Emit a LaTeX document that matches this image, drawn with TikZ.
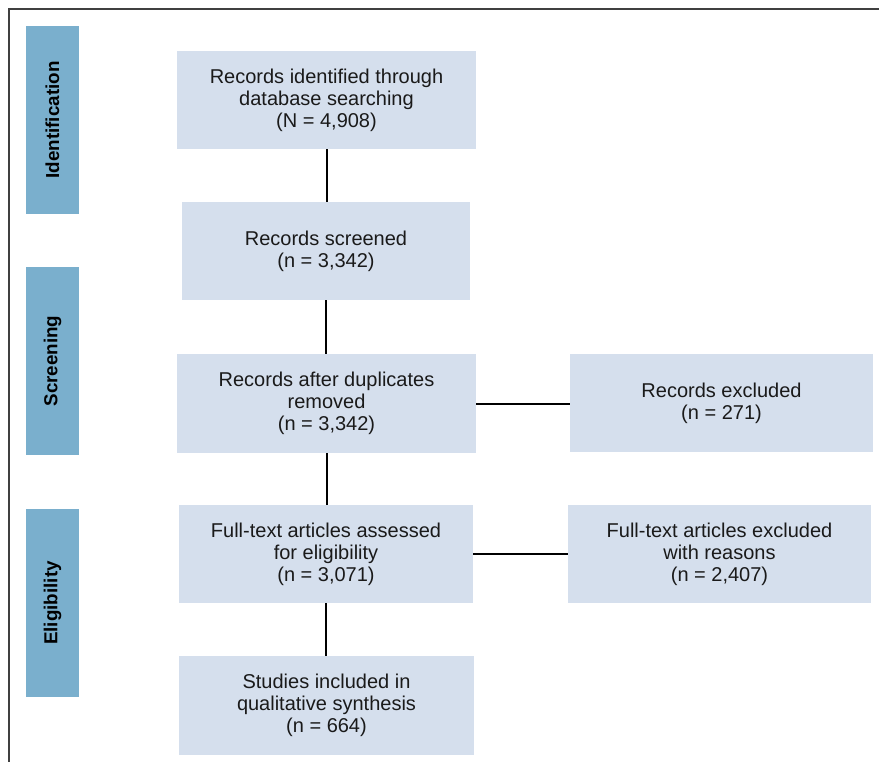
\documentclass[tikz,border=0pt]{standalone}
\usepackage{fontspec}
\setmainfont{Liberation Sans}
\definecolor{barblue}{RGB}{122,175,205}
\definecolor{boxblue}{RGB}{213,223,237}
\definecolor{txt}{RGB}{26,26,26}
\begin{document}
\begin{tikzpicture}[x=1pt,y=-1pt,
  flowbox/.style={rectangle, fill=boxblue, draw=none, inner sep=0pt, align=center, text=txt,
    font=\fontsize{20}{22}\selectfont},
  phasebar/.style={rectangle, fill=barblue, draw=none, inner sep=0pt, minimum width=53pt, minimum height=188pt},
  phaselabel/.style={rotate=90, font=\bfseries\fontsize{18.8}{20}\selectfont, text=black},
  link/.style={draw=black, line width=2pt},
  frame/.style={draw=black!75, line width=1.3pt}]
\useasboundingbox (0,0) rectangle (879,762);
\draw[frame] (9,762) -- (9,9) -- (879,9);
% phase bars
\node[phasebar] (pid) at (52.5,120) {};
\node[phaselabel] (lid) at (pid.center) {Identification};
\node[phasebar] (psc) at (52.5,361) {};
\node[phaselabel] (lsc) at (psc.center) {Screening};
\node[phasebar] (pel) at (52.5,603) {};
\node[phaselabel] (lel) at (pel.center) {Eligibility};
% main boxes
\node[flowbox, minimum width=299pt, minimum height=98pt] (b1) at (326.5,100)
  {Records identified through\\database searching\\(N = 4,908)};
\node[flowbox, minimum width=288pt, minimum height=98pt] (b2) at (326,251)
  {Records screened\\(n = 3,342)};
\node[flowbox, minimum width=299pt, minimum height=99pt] (b3) at (326.5,403.5)
  {Records after duplicates\\removed\\(n = 3,342)};
\node[flowbox, minimum width=294pt, minimum height=98pt] (b4) at (326,554)
  {Full-text articles assessed\\for eligibility\\(n = 3,071)};
\node[flowbox, minimum width=295pt, minimum height=99pt] (b5) at (326.5,705.5)
  {Studies included in\\qualitative synthesis\\(n = 664)};
% exclusion boxes
\node[flowbox, minimum width=303pt, minimum height=98pt] (e1) at (721.5,403)
  {Records excluded\\(n = 271)};
\node[flowbox, minimum width=303pt, minimum height=98pt] (e2) at (719.5,554)
  {Full-text articles excluded\\with reasons\\(n = 2,407)};
% connectors
\draw[link] (b1.south) -- (b1.south |- b2.north);
\draw[link] (b2.south) -- (b2.south |- b3.north);
\draw[link] (b3.south) -- (b3.south |- b4.north);
\draw[link] (b4.south) -- (b4.south |- b5.north);
\draw[link] (b3.east) -- (b3.east -| e1.west);
\draw[link] (b4.east) -- (b4.east -| e2.west);
\end{tikzpicture}
\end{document}
